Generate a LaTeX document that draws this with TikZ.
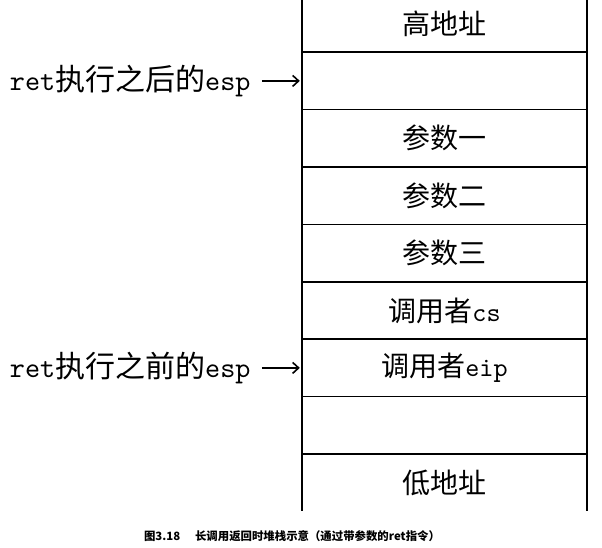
\documentclass[tikz,border=0pt]{standalone}
\usepackage{fontspec}
\setmainfont{Noto Sans CJK SC}
\setmonofont[Extension=.otf,Scale=0.96]{lmmono10-regular}
\usepackage{tikz}
\usetikzlibrary{arrows.meta,positioning}

\tikzset{
  cell/.style={minimum width=285pt,minimum height=57pt,inner sep=0pt,
    font=\fontsize{28}{32}\selectfont},
  espnote/.style={inner sep=0pt,font=\fontsize{30}{34}\selectfont},
  wall/.style={line width=1.6pt},
  ptr/.style={-{Straight Barb[length=6pt,width=11pt]},line width=1.6pt,
    shorten <=11pt,shorten >=2pt}
}

\begin{document}
\begin{tikzpicture}[x=1pt,y=1pt]
\useasboundingbox (0,0) rectangle (602,547);
% stack cells, from high address down to low address
\node[cell] (c0) at (444.5,523.5) {高地址};
\node[cell,below=0pt of c0] (c1) {};
\node[cell,below=0pt of c1] (c2) {参数一};
\node[cell,below=0pt of c2] (c3) {参数二};
\node[cell,below=0pt of c3] (c4) {参数三};
\node[cell,below=0pt of c4] (c5) {调用者\texttt{cs}};
\node[cell,below=0pt of c5] (c6) {调用者\texttt{eip}};
\node[cell,below=0pt of c6] (c7) {};
\node[cell,below=0pt of c7] (c8) {低地址};
\draw[wall] (c0.north west) -- (c8.south west);
\draw[wall] (c0.north east) -- (c8.south east);
\foreach \c in {c0,c1,c2,c3,c4,c5,c6,c7}
  \draw[wall] (\c.south west) -- (\c.south east);
% esp pointers
\node[espnote,left=51pt of c1] (after) {\texttt{ret}执行之后的\texttt{esp}};
\node[espnote,left=51pt of c6] (before) {\texttt{ret}执行之前的\texttt{esp}};
\draw[ptr] (after) -- (c1);
\draw[ptr] (before) -- (c6);
% caption
\node[font=\fontsize{11.4}{13}\selectfont\bfseries] (cap) at (292,11)
  {图3.18\hspace{1.3em}长调用返回时堆栈示意（通过带参数的ret指令）};
\end{tikzpicture}
\end{document}
